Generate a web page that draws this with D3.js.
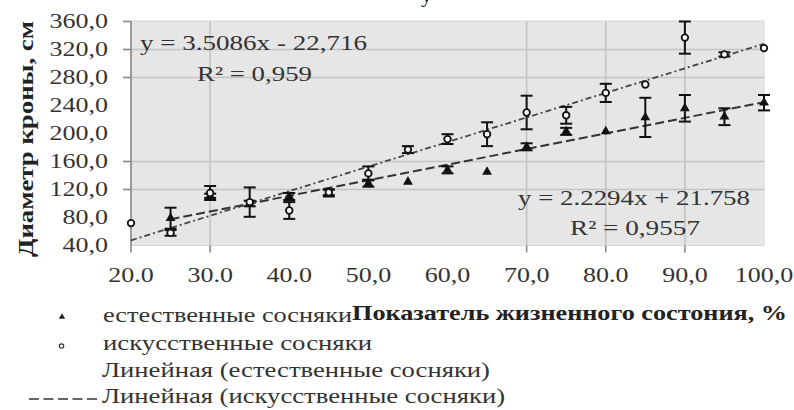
<!DOCTYPE html>
<html><head><meta charset="utf-8">
<script src="https://cdn.jsdelivr.net/npm/d3@7"></script>
<style>
html,body{margin:0;padding:0;background:#fff;}
svg{display:block;}
text{font-family:"Liberation Serif","Times New Roman",serif;}
</style></head>
<body><svg id="c" width="794" height="410"></svg>
<script>
// ---- data ----
const xValues = [20,25,30,35,40,45,50,55,60,65,70,75,80,85,90,95,100];
const naturalValues = [null,79,111,100,110,115,129,131,148,145,181,203,203,223,236,224,244];
const naturalErrors = [0,15,3,4,5,5,5,0,5,0,5,5,0,28,19,12,11];
const artificialValues = [72,58,115,102,90,116,143,177,192,199,230,226,258,270,337,313,322];
const artificialErrors = [0,4,10,21,12,4,10,5,7,17,24,12,13,0,23,3,0];
const trendNatural = [2.2294, 21.758];     // slope, intercept
const trendArtificial = [3.5086, -22.716];
const xTickValues = [20,30,40,50,60,70,80,90,100];
const xTickLabels = ["20.0","30.0","40.0","50,0","60,0","70,0","80.0","90,0","100,0"];
const yTickValues = [40,80,120,160,200,240,280,320,360];
const yTickLabels = ["40,0","80,0","120,0","160,0","200,0","240,0","280,0","320,0","360,0"];
const xGridValues = [30,70,80,90];
const yGridValues = [120,160,280,320];
const legendLabels = ["естественные сосняки","искусственные сосняки","Линейная (естественные сосняки)","Линейная (искусственные сосняки)"];
const eqNatural = ["y = 2.2294x + 21.758","R² = 0,9557"];
const eqArtificial = ["y = 3.5086x - 22,716","R² = 0,959"];
const xTitle = "Показатель жизненного состония, %";
const yTitle = "Диаметр кроны, см";

// ---- drawing ----
const svg = d3.select("#c");
const x = d3.scaleLinear().domain([20,100]).range([131,764]);
const y = d3.scaleLinear().domain([40,360]).range([245.5,21.5]);

function stretch(sel, k){ sel.each(function(){ const w=this.getComputedTextLength(); d3.select(this).attr("textLength", w*k).attr("lengthAdjust","spacingAndGlyphs"); }); }
function fitW(sel, w){ sel.attr("textLength", w).attr("lengthAdjust","spacingAndGlyphs"); }

// cut-off glyph at top
svg.append("text").attr("x",421).attr("y",2).attr("font-size",22).attr("fill","#222").text("у");

// plot area
svg.append("rect").attr("x",x(20)).attr("y",y(360)-0.5).attr("width",x(100)-x(20)).attr("height",y(40)-y(360)+0.5)
  .attr("fill","#e6e6e6").attr("stroke","#d6d6d6").attr("stroke-width",1);

// gridlines
svg.append("g").selectAll("line").data(yGridValues).join("line")
  .attr("x1",x(20)).attr("x2",x(100)).attr("y1",d=>y(d)).attr("y2",d=>y(d))
  .attr("stroke","#c4c4c4").attr("stroke-width",1.6);
svg.append("g").selectAll("line").data(xGridValues).join("line")
  .attr("y1",y(360)).attr("y2",y(40)).attr("x1",d=>x(d)).attr("x2",d=>x(d))
  .attr("stroke","#c4c4c4").attr("stroke-width",1.6);

// axis line + ticks
svg.append("line").attr("x1",x(20)).attr("x2",x(20)).attr("y1",y(360)).attr("y2",y(40)+7).attr("stroke","#8a8a8a").attr("stroke-width",1.6);
svg.append("g").selectAll("line").data([360].concat(yGridValues)).join("line")
  .attr("x1",x(20)-8).attr("x2",x(20)).attr("y1",d=>y(d)).attr("y2",d=>y(d)).attr("stroke","#8a8a8a").attr("stroke-width",1.6);
svg.append("g").selectAll("line").data(xGridValues).join("line")
  .attr("x1",d=>x(d)).attr("x2",d=>x(d)).attr("y1",y(40)).attr("y2",y(40)+7).attr("stroke","#8a8a8a").attr("stroke-width",1.6);

// tick labels
svg.append("g").selectAll("text").data(yTickValues).join("text")
  .attr("x",108).attr("y",d=>y(d)+6.5).attr("text-anchor","end").attr("font-size",20).attr("fill","#333")
  .text((d,i)=>yTickLabels[i]).call(stretch,1.3);
svg.append("g").selectAll("text").data(xTickValues).join("text")
  .attr("x",d=>x(d)).attr("y",282).attr("text-anchor","middle").attr("font-size",20).attr("fill","#333")
  .text((d,i)=>xTickLabels[i]).call(stretch,1.3);

// trendlines
function trendLine(coef, x0, x1){ return [[x0, coef[0]*x0+coef[1]],[x1, coef[0]*x1+coef[1]]]; }
const line = d3.line().x(d=>x(d[0])).y(d=>y(d[1]));
svg.append("path").attr("d", line(trendLine(trendNatural, 25, 100))).attr("fill","none")
  .attr("stroke","#333").attr("stroke-width",2).attr("stroke-dasharray","9,4");
svg.append("path").attr("d", line(trendLine(trendArtificial, 20, 100))).attr("fill","none")
  .attr("stroke","#444").attr("stroke-width",1.8).attr("stroke-dasharray","6,3,2,3");

// error bars
function errBars(vals, errs){
  const data = xValues.map((xv,i)=>({x:xv,v:vals[i],e:errs[i]})).filter(d=>d.v!=null && d.e>0);
  const g = svg.append("g").attr("stroke","#111").attr("stroke-width",2);
  g.selectAll(".v").data(data).join("line").attr("x1",d=>x(d.x)).attr("x2",d=>x(d.x)).attr("y1",d=>y(d.v+d.e)).attr("y2",d=>y(d.v-d.e));
  g.selectAll(".t").data(data).join("line").attr("x1",d=>x(d.x)-6).attr("x2",d=>x(d.x)+6).attr("y1",d=>y(d.v+d.e)).attr("y2",d=>y(d.v+d.e));
  g.selectAll(".b").data(data).join("line").attr("x1",d=>x(d.x)-6).attr("x2",d=>x(d.x)+6).attr("y1",d=>y(d.v-d.e)).attr("y2",d=>y(d.v-d.e));
}
errBars(naturalValues, naturalErrors);
errBars(artificialValues, artificialErrors);

// markers
const tri = d3.symbol().type(d3.symbolTriangle).size(42);
svg.append("g").selectAll("path").data(xValues.map((xv,i)=>[xv,naturalValues[i]]).filter(d=>d[1]!=null)).join("path")
  .attr("d",tri).attr("transform",d=>`translate(${x(d[0])},${y(d[1])})`).attr("fill","#111");
svg.append("g").selectAll("circle").data(xValues.map((xv,i)=>[xv,artificialValues[i]])).join("circle")
  .attr("cx",d=>x(d[0])).attr("cy",d=>y(d[1])).attr("r",3.3).attr("fill","#fff").attr("stroke","#111").attr("stroke-width",1.8);

// equations
const eqStyle = s=>s.attr("font-size",21).attr("fill","#333");
svg.append("text").attr("x",140).attr("y",50).text(eqArtificial[0]).call(eqStyle).call(fitW,227);
svg.append("text").attr("x",197).attr("y",81).text(eqArtificial[1]).call(eqStyle).call(fitW,115);
svg.append("text").attr("x",518).attr("y",205).text(eqNatural[0]).call(eqStyle).call(fitW,232);
svg.append("text").attr("x",570).attr("y",235).text(eqNatural[1]).call(eqStyle).call(fitW,130);

// axis titles
svg.append("text").attr("transform","translate(33,139) rotate(-90)").attr("text-anchor","middle")
  .attr("font-size",21).attr("font-weight","bold").attr("fill","#222").text(yTitle).call(fitW,236);

// legend
const legY = [322,350,377,403];
const legW = [249,269,388,403];
svg.append("g").selectAll("text").data(legendLabels).join("text")
  .attr("x",(d,i)=>i<2?103:102).attr("y",(d,i)=>legY[i]).attr("font-size",20).attr("fill","#333")
  .text(d=>d).each(function(d,i){ d3.select(this).call(fitW,legW[i]); });
svg.append("path").attr("d",d3.symbol().type(d3.symbolTriangle).size(18)()).attr("transform","translate(62,317)").attr("fill","#222");
svg.append("circle").attr("cx",61.5).attr("cy",346).attr("r",2.2).attr("fill","#fff").attr("stroke","#333").attr("stroke-width",1.2);
svg.append("line").attr("x1",29).attr("x2",97).attr("y1",399).attr("y2",399).attr("stroke","#333").attr("stroke-width",1.5).attr("stroke-dasharray","10,4.5");

svg.append("text").attr("x",352).attr("y",320).attr("font-size",21).attr("font-weight","bold").attr("fill","#222")
  .text(xTitle).call(fitW,435);
</script></body></html>
